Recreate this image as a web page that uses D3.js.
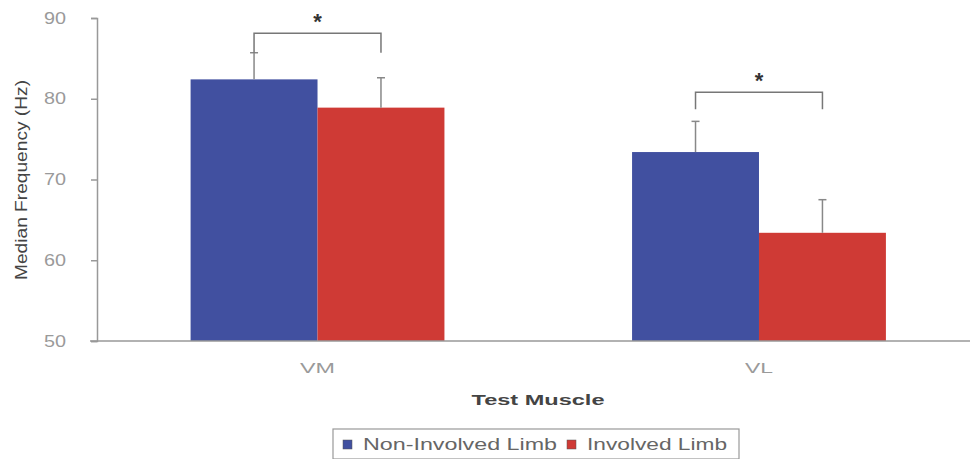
<!DOCTYPE html>
<html><head><meta charset="utf-8">
<script src="https://cdn.jsdelivr.net/npm/d3@7"></script>
<style>body{margin:0;background:#fff;} svg{display:block;font-family:"Liberation Sans",Arial,sans-serif;}</style>
</head><body>
<svg id="c" width="972" height="459"></svg>
<script>
const categories = ["VM", "VL"];
const seriesNames = ["Non-Involved Limb", "Involved Limb"];
const nonInvolved = [82.4, 73.4];
const involved = [78.9, 63.4];
const nonInvolvedErr = [3.3, 3.8];
const involvedErr = [3.7, 4.1];
const yTicks = [50, 60, 70, 80, 90];
const colors = ["#4150a0", "#cf3a35"];

const svg = d3.select("#c");
const y = d3.scaleLinear().domain([50, 90]).range([341, 18]);
const x = d3.scaleBand().domain(categories).range([97, 979.5]).paddingInner(0.425).paddingOuter(0.212);
const xs = d3.scaleBand().domain([0, 1]).range([0, x.bandwidth()]);
const series = [nonInvolved, involved];
const errs = [nonInvolvedErr, involvedErr];

// bars
categories.forEach((c, i) => {
  series.forEach((s, k) => {
    svg.append("rect")
      .attr("x", x(c) + xs(k)).attr("y", y(s[i]))
      .attr("width", xs.bandwidth()).attr("height", y(50) - y(s[i]))
      .attr("fill", colors[k]);
    const cx = x(c) + xs(k) + xs.bandwidth() / 2;
    svg.append("line").attr("x1", cx).attr("x2", cx)
      .attr("y1", y(s[i])).attr("y2", y(s[i] + errs[k][i]))
      .attr("stroke", "#888").attr("stroke-width", 1.5);
    svg.append("line").attr("x1", cx - 4).attr("x2", cx + 4)
      .attr("y1", y(s[i] + errs[k][i])).attr("y2", y(s[i] + errs[k][i]))
      .attr("stroke", "#888").attr("stroke-width", 1.5);
  });
});

// significance brackets
const bracketTop = [88.1, 80.8];
const bracketLeg = [85.7, 78.7];
categories.forEach((c, i) => {
  const x1 = x(c) + xs(0) + xs.bandwidth() / 2;
  const x2 = x(c) + xs(1) + xs.bandwidth() / 2;
  svg.append("path")
    .attr("d", `M${x1},${y(bracketLeg[i])}V${y(bracketTop[i])}H${x2}V${y(bracketLeg[i])}`)
    .attr("fill", "none").attr("stroke", "#777").attr("stroke-width", 1.5);
  svg.append("text").attr("x", (x1 + x2) / 2).attr("y", y(bracketTop[i]) - 4)
    .attr("text-anchor", "middle").attr("font-size", 22).attr("font-weight", "bold")
    .attr("fill", "#333").text("*");
});

// y axis
const yAxis = svg.append("g").attr("transform", "translate(97,0)")
  .call(d3.axisLeft(y).tickValues(yTicks).tickSize(6).tickPadding(25));
yAxis.select(".domain").attr("stroke", "#999").attr("stroke-width", 1.5);
yAxis.selectAll(".tick line").attr("stroke", "#999").attr("stroke-width", 1.5);
yAxis.selectAll("text").attr("font-size", 16).attr("fill", "#9a9a9a")
  .attr("font-family", "Liberation Sans, Arial, sans-serif")
  .attr("textLength", 22).attr("lengthAdjust", "spacingAndGlyphs");

// x axis
svg.append("line").attr("x1", 90).attr("x2", 970).attr("y1", y(50)).attr("y2", y(50))
  .attr("stroke", "#999").attr("stroke-width", 1.5);
const catLen = [35, 28];
categories.forEach((c, i) => {
  svg.append("text").attr("x", x(c) + x.bandwidth() / 2).attr("y", 373)
    .attr("text-anchor", "middle").attr("font-size", 15).attr("fill", "#9a9a9a")
    .attr("textLength", catLen[i]).attr("lengthAdjust", "spacingAndGlyphs").text(c);
});

svg.append("text").attr("x", 538).attr("y", 405).attr("text-anchor", "middle")
  .attr("font-size", 15).attr("font-weight", "bold").attr("fill", "#444")
  .attr("textLength", 133).attr("lengthAdjust", "spacingAndGlyphs").text("Test Muscle");

svg.append("text").attr("transform", "translate(27,180) rotate(-90)")
  .attr("text-anchor", "middle").attr("font-size", 16).attr("fill", "#444")
  .attr("textLength", 200).attr("lengthAdjust", "spacingAndGlyphs")
  .text("Median Frequency (Hz)");

// legend
svg.append("rect").attr("x", 333).attr("y", 429).attr("width", 406).attr("height", 30)
  .attr("fill", "#fff").attr("stroke", "#999").attr("stroke-width", 1.2);
const legX = [343, 567];
const legLen = [194, 140];
seriesNames.forEach((n, k) => {
  svg.append("rect").attr("x", legX[k]).attr("y", 440).attr("width", 9).attr("height", 9)
    .attr("fill", colors[k]).attr("stroke", "#555").attr("stroke-width", 0.5);
  svg.append("text").attr("x", legX[k] + 20).attr("y", 450).attr("font-size", 16)
    .attr("fill", "#666").attr("textLength", legLen[k]).attr("lengthAdjust", "spacingAndGlyphs")
    .text(n);
});
</script>
</body></html>
